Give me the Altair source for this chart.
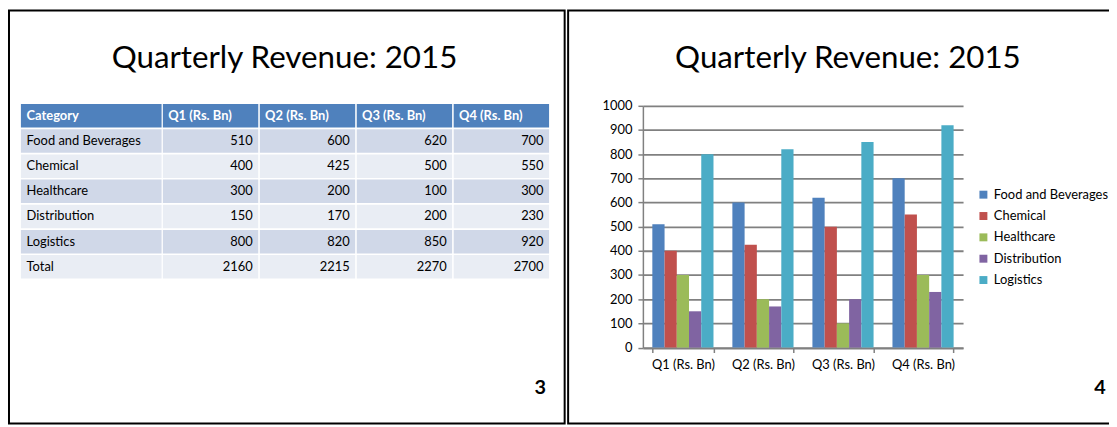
import altair as alt
import pandas as pd

TITLE = "Quarterly Revenue: 2015"
quarters = ["Q1 (Rs. Bn)", "Q2 (Rs. Bn)", "Q3 (Rs. Bn)", "Q4 (Rs. Bn)"]
categories = ["Food and Beverages", "Chemical", "Healthcare", "Distribution", "Logistics"]
food = [510, 600, 620, 700]
chemical = [400, 425, 500, 550]
healthcare = [300, 200, 100, 300]
distribution = [150, 170, 200, 230]
logistics = [800, 820, 850, 920]
totals = [2160, 2215, 2270, 2700]
header_label = "Category"
total_label = "Total"
y_ticks = [0, 100, 200, 300, 400, 500, 600, 700, 800, 900, 1000]
colors = ["#4F81BD", "#C0504D", "#9BBB59", "#8064A2", "#4BACC6"]
slide_numbers = ["3", "4"]

FONT = "Lato"
FS = 13
W, H = 1109, 419

series = [food, chemical, healthcare, distribution, logistics]
bars_df = pd.DataFrame(
    [{"quarter": q, "category": c, "value": vals[i]}
     for c, vals in zip(categories, series) for i, q in enumerate(quarters)]
)

# ---------- table ----------
row_labels = [header_label] + categories + [total_label]
body_rows = categories + [total_label]
body_vals = series + [totals]


def shade_of(idx):
    if idx == 0:
        return "header"
    return "odd" if idx % 2 == 1 else "even"


rows_df = pd.DataFrame([{"row": r, "shade": shade_of(i)} for i, r in enumerate(row_labels)])
qcells_df = pd.DataFrame(
    [{"row": r, "quarter": q, "shade": shade_of(i)} for i, r in enumerate(row_labels) for q in quarters]
)
nums_df = pd.DataFrame(
    [{"row": r, "quarter": q, "value": vals[j]}
     for r, vals in zip(body_rows, body_vals) for j, q in enumerate(quarters)]
)
body_names_df = pd.DataFrame({"row": body_rows})
head_q_df = pd.DataFrame({"row": [header_label] * 4, "quarter": quarters})
head_c_df = pd.DataFrame({"row": [header_label]})

row_scale = alt.Scale(domain=row_labels, range=[95.3, 271.0], paddingInner=0.067, paddingOuter=0)
col_scale = alt.Scale(domain=quarters, range=[156.0, 545.0], paddingInner=0.016, paddingOuter=0)
fill_scale = alt.Scale(domain=["header", "odd", "even"], range=["#4F81BD", "#D0D8E8", "#E9EDF4"])

Y_ROW = alt.Y("row:N", scale=row_scale, axis=None)
X_COL = alt.X("quarter:N", scale=col_scale, axis=None)

t_catcells = alt.Chart(rows_df).mark_rect().encode(
    x=alt.value(13), x2=alt.value(154.7), y=Y_ROW,
    fill=alt.Fill("shade:N", scale=fill_scale, legend=None),
)
t_qcells = alt.Chart(qcells_df).mark_rect().encode(
    x=X_COL, y=Y_ROW,
    fill=alt.Fill("shade:N", scale=fill_scale, legend=None),
)
t_names = alt.Chart(body_names_df).mark_text(
    align="left", baseline="middle", font=FONT, fontSize=FS, color="#000000"
).encode(x=alt.value(18.7), y=Y_ROW, text="row:N")
t_headc = alt.Chart(head_c_df).mark_text(
    align="left", baseline="middle", font=FONT, fontSize=FS, fontWeight="bold", color="#FFFFFF"
).encode(x=alt.value(18.7), y=Y_ROW, text="row:N")
t_headq = alt.Chart(head_q_df).mark_text(
    align="left", baseline="middle", font=FONT, fontSize=FS, fontWeight="bold", color="#FFFFFF", dx=-42.7
).encode(x=X_COL, y=Y_ROW, text="quarter:N")
t_nums = alt.Chart(nums_df).mark_text(
    align="right", baseline="middle", font=FONT, fontSize=FS, color="#000000", dx=42.5
).encode(x=X_COL, y=Y_ROW, text="value:Q")

table = alt.layer(t_catcells, t_qcells, t_names, t_headc, t_headq, t_nums)

# ---------- bar chart ----------
PX0, PX1 = 639.5, 962.0
PY0, PY1 = 340.5, 97.0
GRID = "#808080"

bar_chart = alt.Chart(bars_df).mark_bar().encode(
    x=alt.X(
        "quarter:N", sort=quarters,
        scale=alt.Scale(range=[PX0, PX1], paddingInner=0.236, paddingOuter=0.118),
        axis=alt.Axis(
            orient="bottom", offset=-(H - PY0), title=None, labelAngle=0,
            tickBand="extent", tickSize=5, tickColor=GRID, tickWidth=1.5,
            domainColor=GRID, domainWidth=1.5, labelPadding=6,
            labelFont=FONT, labelFontSize=FS, labelColor="#000000", grid=False,
        ),
    ),
    xOffset=alt.XOffset("category:N", sort=categories, scale=alt.Scale(paddingInner=0, paddingOuter=0)),
    y=alt.Y(
        "value:Q",
        scale=alt.Scale(domain=[0, 1000], range=[PY0, PY1], nice=False),
        axis=alt.Axis(
            orient="left", offset=-PX0, title=None, values=y_ticks, format="d",
            grid=True, gridColor=GRID, gridWidth=1.8,
            tickSize=5, tickColor=GRID, tickWidth=1.5,
            domainColor=GRID, domainWidth=1.5, labelPadding=6,
            labelFont=FONT, labelFontSize=FS, labelColor="#000000",
        ),
    ),
    color=alt.Color(
        "category:N", sort=categories,
        scale=alt.Scale(domain=categories, range=colors),
        legend=alt.Legend(
            orient="none", legendX=976, legendY=180, title=None, padding=0,
            symbolType="square", symbolSize=64, symbolStrokeWidth=0,
            labelFont=FONT, labelFontSize=FS, labelColor="#000000",
            labelOffset=4, rowPadding=7.5,
        ),
    ),
)

# ---------- slide decoration ----------
left_border = alt.Chart(pd.DataFrame({"a": [0]})).mark_rect(
    fill="transparent", stroke="#000000", strokeWidth=2
).encode(x=alt.value(1), x2=alt.value(560.7), y=alt.value(1), y2=alt.value(417))
right_border = alt.Chart(pd.DataFrame({"a": [0]})).mark_rect(
    fill="transparent", stroke="#000000", strokeWidth=2
).encode(x=alt.value(564.2), x2=alt.value(1115), y=alt.value(1), y2=alt.value(417))

title_left = alt.Chart(pd.DataFrame({"t": [TITLE]})).mark_text(
    font=FONT, fontSize=31.5, color="#000000", align="center", baseline="alphabetic"
).encode(x=alt.value(278.5), y=alt.value(59.3), text="t:N")
title_right = alt.Chart(pd.DataFrame({"t": [TITLE]})).mark_text(
    font=FONT, fontSize=31.5, color="#000000", align="center", baseline="alphabetic"
).encode(x=alt.value(846), y=alt.value(59.3), text="t:N")

num_left = alt.Chart(pd.DataFrame({"t": [slide_numbers[0]]})).mark_text(
    font=FONT, fontSize=20, fontWeight="bold", color="#000000", align="center", baseline="alphabetic"
).encode(x=alt.value(536), y=alt.value(387), text="t:N")
num_right = alt.Chart(pd.DataFrame({"t": [slide_numbers[1]]})).mark_text(
    font=FONT, fontSize=20, fontWeight="bold", color="#000000", align="center", baseline="alphabetic"
).encode(x=alt.value(1100), y=alt.value(387), text="t:N")

chart = alt.layer(
    table, bar_chart, left_border, right_border, title_left, title_right, num_left, num_right
).resolve_scale(
    x="independent", y="independent", fill="independent", color="independent"
).properties(
    width=W, height=H, padding=0, autosize=alt.AutoSizeParams(type="none"), background="#FFFFFF"
).configure_view(strokeWidth=0)

chart.save("out.html", embed_options={"renderer": "svg", "actions": False})
